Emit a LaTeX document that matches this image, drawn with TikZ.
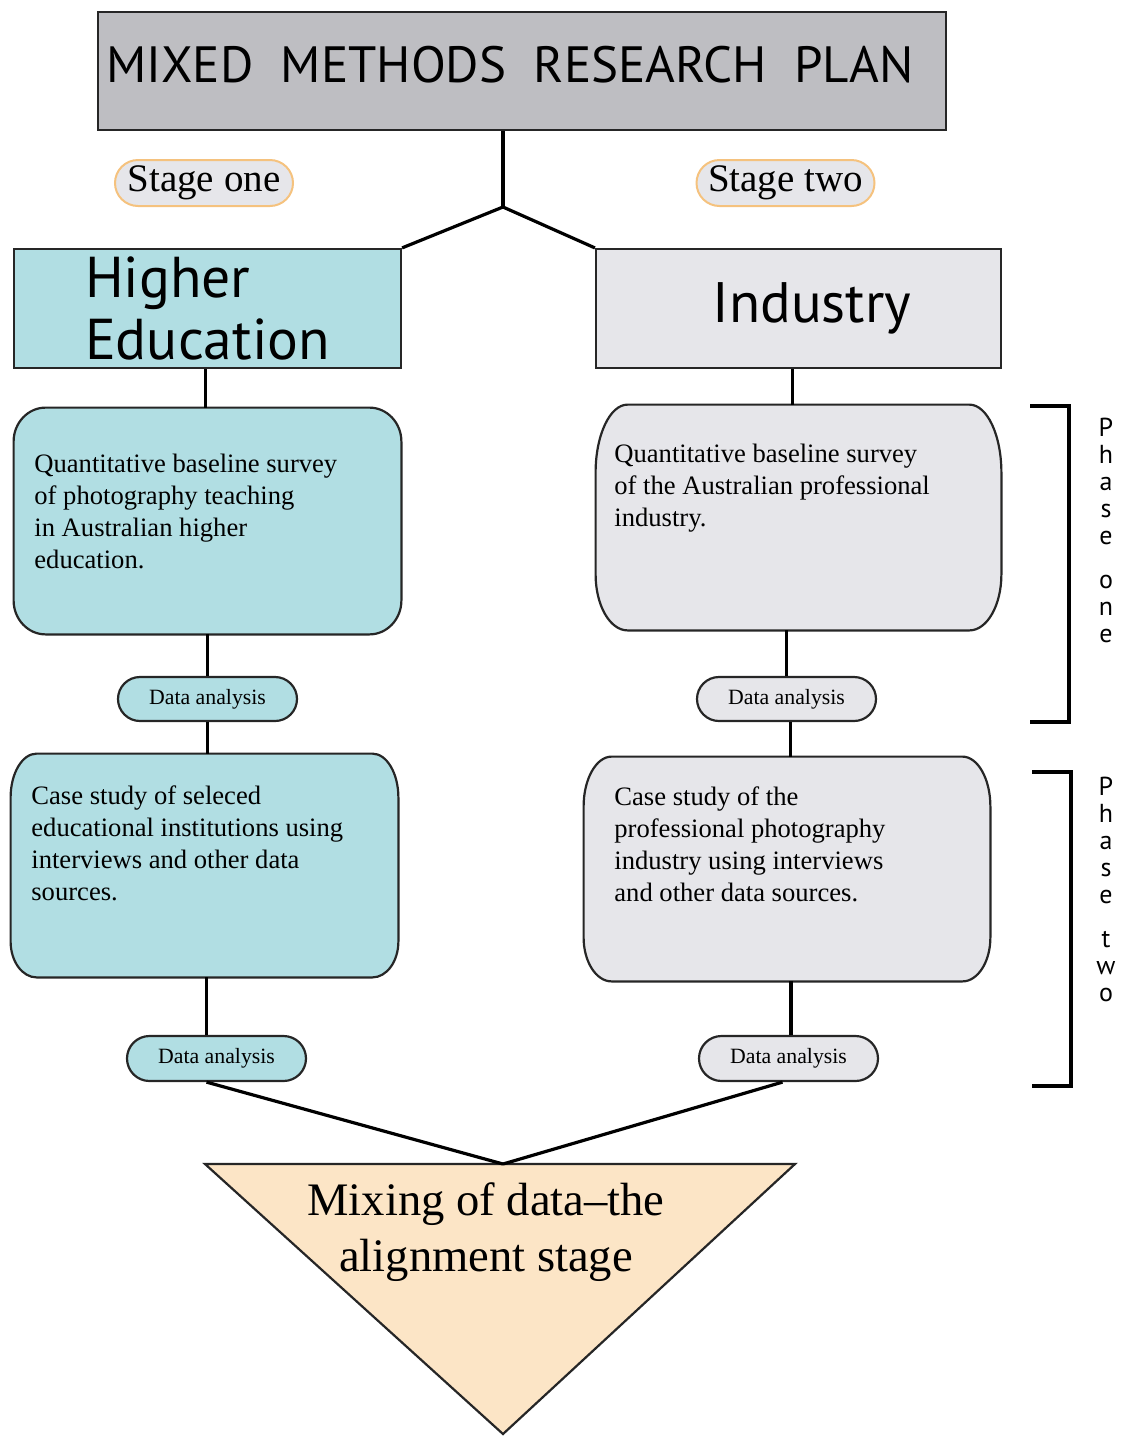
\documentclass[tikz,border=0pt]{standalone}
\usepackage{fontspec}
\setmainfont{Liberation Serif}
\setsansfont{PT Sans}
\usetikzlibrary{calc,shapes.misc}
\definecolor{titlegray}{HTML}{BEBEC2}
\definecolor{teal}{HTML}{B1DEE3}
\definecolor{lgray}{HTML}{E6E6EA}
\definecolor{peach}{HTML}{FCE5C6}
\definecolor{pillorange}{HTML}{F5C27E}
\newcommand\ebox[5]{% name, rx, ry top, ry bottom, fill
  \draw[boxline,fill=#5] ($(#1.north west)+(#2,0pt)$) -- ($(#1.north east)+(-#2,0pt)$)
    arc[start angle=90,end angle=0,x radius=#2,y radius=#3]
    -- ($(#1.south east)+(0pt,#4)$)
    arc[start angle=0,end angle=-90,x radius=#2,y radius=#4]
    -- ($(#1.south west)+(#2,0pt)$)
    arc[start angle=270,end angle=180,x radius=#2,y radius=#4]
    -- ($(#1.north west)+(0pt,-#3)$)
    arc[start angle=180,end angle=90,x radius=#2,y radius=#3] -- cycle;}
\begin{document}
\begin{tikzpicture}[x=0.5pt,y=0.5pt,
  boxline/.style={draw=black!85,line width=1.1pt},
  rectbox/.style={boxline,rectangle,inner sep=0pt},
  shapebox/.style={rectangle,inner sep=0pt},
  body/.style={anchor=north west,align=left,inner sep=0pt,font=\fontsize{13.3}{16}\selectfont},
  pill/.style={boxline,rounded rectangle,inner sep=0pt,minimum width=89.5pt,minimum height=22pt,font=\fontsize{10.9}{12}\selectfont},
  stagepill/.style={rounded rectangle,draw=pillorange,line width=1pt,fill=lgray,inner sep=0pt,minimum width=89pt,minimum height=23pt,font=\fontsize{19.5}{22}\selectfont},
  conn/.style={line width=1.6pt,black},
  phase/.style={align=center,inner sep=0pt,font=\sffamily\fontsize{13}{13.5}\selectfont}]
\useasboundingbox (0,0) rectangle (1120,-1436);
% title
\node[rectbox,fill=titlegray,minimum width=424pt,minimum height=59pt,font=\sffamily\fontsize{25.5}{28}\selectfont] (title) at (522,-71)
  {\hspace*{-12pt}\raisebox{6.5pt}{MIXED\ \ METHODS\ \ RESEARCH\ \ PLAN}};
% stage pills
\node[stagepill] (s1) at (204,-183) {Stage one};
\node[stagepill] (s2) at (785.5,-183) {Stage two};
% branch boxes
\node[rectbox,fill=teal,minimum width=193.5pt,minimum height=59.5pt,align=left,font=\sffamily\fontsize{28.8}{31}\selectfont] (he) at (207.5,-308.5) {Higher\\Education};
\node[rectbox,fill=lgray,minimum width=202.5pt,minimum height=59.5pt,font=\sffamily\fontsize{28.5}{31}\selectfont] (ind) at (798.5,-308.5) {\hspace*{13.5pt}Industry};
% rounded step boxes
\node[shapebox,minimum width=193.5pt,minimum height=113pt] (hq1) at (207.5,-521) {};
\ebox{hq1}{16pt}{17pt}{17pt}{teal}
\node[body] (hq1t) at (34,-454) {Quantitative baseline survey\\of photography teaching\\in Australian higher\\education.};
\node[shapebox,minimum width=202.5pt,minimum height=112.5pt] (iq1) at (798.5,-517.5) {};
\ebox{iq1}{16pt}{34pt}{28pt}{lgray}
\node[body] (iq1t) at (614,-444) {Quantitative baseline survey\\of the Australian professional\\industry.};
\node[shapebox,minimum width=193.5pt,minimum height=111.5pt] (hc) at (204.5,-865.5) {};
\ebox{hc}{13pt}{22pt}{18pt}{teal}
\node[body] (hct) at (31,-785) {Case study of seleced\\educational institutions using\\interviews and other data\\sources.};
\node[shapebox,minimum width=203pt,minimum height=112pt] (ic) at (787,-869) {};
\ebox{ic}{14pt}{25pt}{22pt}{lgray}
\node[body] (ict) at (614,-786) {Case study of the\\professional photography\\industry using interviews\\and other data sources.};
% data analysis pills
\node[pill,fill=teal] (hd1) at (207.5,-699) {Data analysis};
\node[pill,fill=lgray] (id1) at (786.5,-699) {Data analysis};
\node[pill,fill=teal,minimum height=22.5pt] (hd2) at (216.5,-1058.5) {Data analysis};
\node[pill,fill=lgray,minimum height=22.5pt] (id2) at (788.5,-1058.5) {Data analysis};
% triangle
\coordinate (mixtop) at (503,-1164);
\draw[boxline,fill=peach] (205,-1164) -- (795,-1164) -- (503,-1434) -- cycle;
\node[align=center,inner sep=0pt,font=\fontsize{23.3}{28}\selectfont] (mix) at (486,-1232) {Mixing of data--the\\alignment stage};
% connectors
\coordinate (j) at (503,-207);
\draw[conn] (title.south -| j) -- (j);
\draw[conn] (he.north east) -- (j) -- (ind.north west);
\draw[conn] ([xshift=-1pt]he.south) -- ([xshift=-1pt]hq1.north);
\draw[conn] ([xshift=-3pt]ind.south) -- ([xshift=-3pt]iq1.north);
\draw[conn] (hq1.south) -- (hd1.north);
\draw[conn] (hd1.south) -- (hd1.south |- hc.north);
\draw[conn] (iq1.south -| id1) -- (id1.north);
\draw[conn] ([xshift=2pt]id1.south) -- ([xshift=2pt]id1.south |- ic.north);
\draw[conn] ([xshift=1pt]hc.south) -- ([xshift=1pt]hc.south |- hd2.north);
\draw[conn] ([xshift=2pt]ic.south) -- ([xshift=2pt]ic.south |- id2.north);
\draw[conn] ([xshift=-5pt]hd2.south) -- (mixtop);
\draw[conn] ([xshift=-3pt]id2.south) -- (mixtop);
% phase brackets
\draw[conn,line width=1.8pt] (1030,-406) -- (1069,-406) -- (1069,-722) -- (1030,-722);
\draw[conn,line width=1.8pt] (1032,-772) -- (1071,-772) -- (1071,-1086) -- (1032,-1086);
\node[phase] (p1) at (1106,-530) {P\\h\\a\\s\\e\\[8.5pt]o\\n\\e};
\node[phase] (p2) at (1106,-889) {P\\h\\a\\s\\e\\[8.5pt]t\\w\\o};
\end{tikzpicture}
\end{document}
